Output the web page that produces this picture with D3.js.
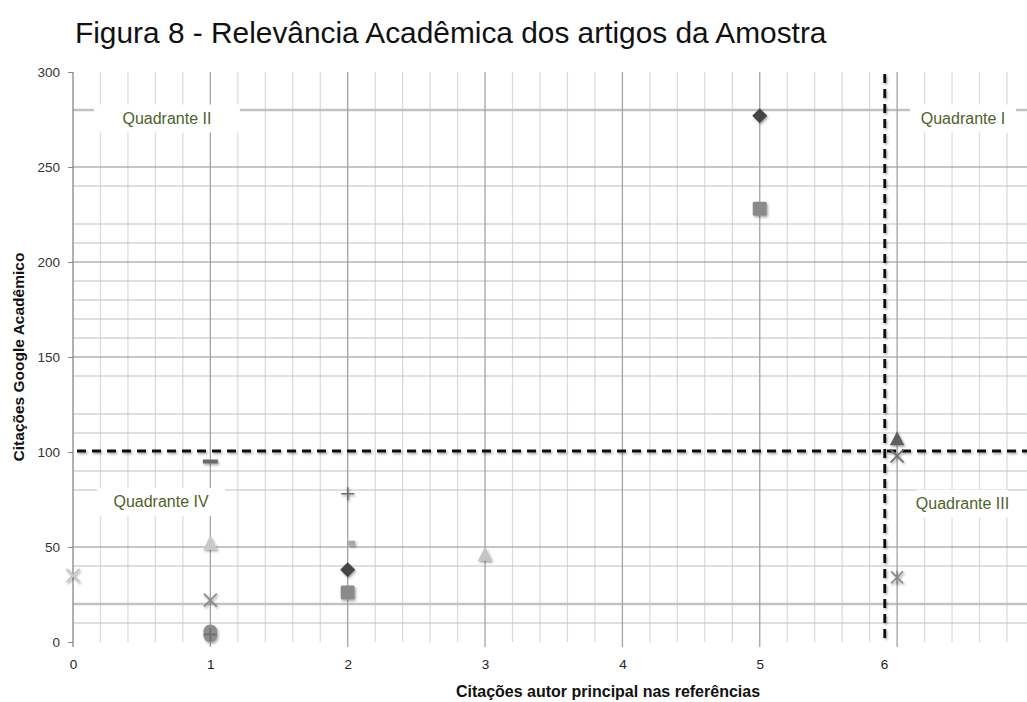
<!DOCTYPE html>
<html>
<head>
<meta charset="utf-8">
<script src="https://cdn.jsdelivr.net/npm/d3@7"></script>
<style>
  body { margin: 0; background: #fff; }
  svg { display: block; }
</style>
</head>
<body>
<script>
// Each article: citations of the lead author in the references (x) vs Google Scholar citations (y)
const citacoesAutor  = [0, 1, 1, 1, 1, 1, 1, 2, 2, 2, 2, 3, 5, 5, 6, 6, 6];
const citacoesGoogle = [35, 95, 52, 22, 5.5, 3.5, 4, 78, 52, 38, 26, 46, 277, 228, 107, 98, 34];
const marcadores = ['x', 'dash', 'triangle', 'x', 'circle', 'circle', 'plus', 'plus', 'shortDash',
                    'diamond', 'square', 'triangle', 'diamond', 'square', 'triangle', 'x', 'asterisk'];

// Axis ticks
const xTicks = [0, 1, 2, 3, 4, 5, 6];
const yTicks = [0, 50, 100, 150, 200, 250, 300];

// Horizontal gridlines
const yMajorLines = [50, 150, 200, 250];
const yMinorLines = [10, 40, 80, 90, 110, 120, 140, 160, 170, 180, 190, 210, 220, 240];
const yWideLines  = [20, 280];

// Quadrant dividers
const corteX = 5.91;
const corteY = 100.5;

// Quadrant captions, anchored at data coordinates
const quadrantes = [
  { texto: 'Quadrante II',  x: 0.684, y: 275.5 },
  { texto: 'Quadrante I',   x: 6.48,  y: 275.5 },
  { texto: 'Quadrante IV',  x: 0.641, y: 73.7 },
  { texto: 'Quadrante III', x: 6.476, y: 72.8 }
];

// ---- styling (kept apart from the data) ----
const markerColor = ['#c4c4c4', '#6b6b6b', '#c8c8c8', '#8a8a8a', '#8e8e8e', '#8e8e8e', '#6e6e6e', '#6a6a6a', '#a8a8a8',
                     '#444444', '#8a8a8a', '#c4c4c4', '#444444', '#8a8a8a', '#5e5e5e', '#6e6e6e', '#8a8a8a'];
const quadBoxWidth = [146, 106, 128, 91];

const W = 1027, H = 702;
const svg = d3.select('body').append('svg').attr('width', W).attr('height', H);

const defs = svg.append('defs');
const sh = defs.append('filter').attr('id', 'sombra')
  .attr('x', '-50%').attr('y', '-50%').attr('width', '200%').attr('height', '200%');
sh.append('feDropShadow').attr('dx', 1.2).attr('dy', 1.6).attr('stdDeviation', 1.3)
  .attr('flood-color', '#000').attr('flood-opacity', 0.35);

const x = d3.scaleLinear().domain([0, 7]).range([73, 73 + 7 * 137.35]);
const y = d3.scaleLinear().domain([0, 300]).range([642, 72]);

// Title
svg.append('text')
  .attr('x', 75).attr('y', 43)
  .attr('font-family', 'Liberation Sans, Arial, sans-serif')
  .attr('font-size', 29.85)
  .attr('fill', '#111')
  .text('Figura 8 - Relevância Acadêmica dos artigos da Amostra');

const grid = svg.append('g');

// vertical minor gridlines every 0.2
const xMinor = d3.range(0, 36).map(i => i / 5).filter(v => Math.abs(v - Math.round(v)) > 1e-6);
grid.selectAll('line.vmin').data(xMinor).join('line')
  .attr('x1', d => x(d)).attr('x2', d => x(d))
  .attr('y1', y(300)).attr('y2', y(0))
  .attr('stroke', '#d9d9d9').attr('stroke-width', 1.2);

// horizontal gridlines
grid.selectAll('line.hmin').data(yMinorLines).join('line')
  .attr('x1', x(0)).attr('x2', W)
  .attr('y1', d => y(d)).attr('y2', d => y(d))
  .attr('stroke', '#c0c0c0').attr('stroke-width', 1.1);
grid.selectAll('line.hwide').data(yWideLines).join('line')
  .attr('x1', x(0)).attr('x2', W)
  .attr('y1', d => y(d)).attr('y2', d => y(d))
  .attr('stroke', '#c2c2c2').attr('stroke-width', 2.4);
grid.selectAll('line.hmaj').data(yMajorLines).join('line')
  .attr('x1', x(0)).attr('x2', W)
  .attr('y1', d => y(d)).attr('y2', d => y(d))
  .attr('stroke', '#8e8e8e').attr('stroke-width', 1.2);

// vertical major gridlines at integers (with small tick below)
grid.selectAll('line.vmaj').data(d3.range(1, 8)).join('line')
  .attr('x1', d => x(d)).attr('x2', d => x(d))
  .attr('y1', y(300)).attr('y2', y(0) + 5)
  .attr('stroke', '#a2a2a2').attr('stroke-width', 1.3);

// Quadrant caption boxes
const qg = svg.append('g');
quadrantes.forEach((q, i) => {
  const cx = x(q.x), cy = y(q.y);
  qg.append('rect')
    .attr('x', cx - quadBoxWidth[i] / 2).attr('y', cy - 14)
    .attr('width', quadBoxWidth[i]).attr('height', 28)
    .attr('fill', '#fff');
  qg.append('text')
    .attr('x', cx).attr('y', cy)
    .attr('text-anchor', 'middle').attr('dominant-baseline', 'central')
    .attr('font-family', 'Liberation Sans, Arial, sans-serif')
    .attr('font-size', 16).attr('fill', '#4f6228')
    .text(q.texto);
});

// Y axis
const yAxis = svg.append('g').attr('transform', `translate(${x(0)},0)`)
  .call(d3.axisLeft(y).tickValues(yTicks).tickSize(5).tickPadding(8).tickSizeOuter(0));
yAxis.select('.domain').attr('stroke', '#868686').attr('stroke-width', 1.3)
  .attr('d', `M0,${y(300)}V${y(0) + 5}`);
yAxis.selectAll('.tick line').attr('stroke', '#868686');
yAxis.selectAll('.tick text')
  .attr('font-family', 'Liberation Sans, Arial, sans-serif')
  .attr('font-size', 13.5).attr('fill', '#333');

// X axis (labels only, gridlines carry the ticks)
const xAxis = svg.append('g').attr('transform', `translate(0,${y(0)})`)
  .call(d3.axisBottom(x).tickValues(xTicks).tickFormat(d3.format('d')).tickSize(0).tickPadding(17));
xAxis.select('.domain').remove();
xAxis.selectAll('.tick line').remove();
xAxis.selectAll('.tick text')
  .attr('font-family', 'Liberation Sans, Arial, sans-serif')
  .attr('font-size', 13.5).attr('fill', '#222')
  .attr('dx', d => d === xTicks[xTicks.length - 1] ? -13 : 0);

// Axis titles
svg.append('text')
  .attr('transform', `translate(18,${(y(0) + y(300)) / 2}) rotate(-90)`)
  .attr('text-anchor', 'middle').attr('dominant-baseline', 'central')
  .attr('font-family', 'Liberation Sans, Arial, sans-serif')
  .attr('font-size', 15.5).attr('font-weight', 'bold').attr('fill', '#111')
  .text('Citações Google Acadêmico');
svg.append('text')
  .attr('x', 608).attr('y', 697)
  .attr('text-anchor', 'middle')
  .attr('font-family', 'Liberation Sans, Arial, sans-serif')
  .attr('font-size', 16).attr('font-weight', 'bold').attr('fill', '#111')
  .text('Citações autor principal nas referências');

// Quadrant divider lines
const cortes = svg.append('g').attr('filter', 'url(#sombra)');
cortes.append('line')
  .attr('x1', x(0) + 4).attr('x2', W)
  .attr('y1', y(corteY)).attr('y2', y(corteY))
  .attr('stroke', '#111').attr('stroke-width', 3).attr('stroke-dasharray', '9,6');
cortes.append('line')
  .attr('x1', x(corteX)).attr('x2', x(corteX))
  .attr('y1', y(300) + 2).attr('y2', y(0))
  .attr('stroke', '#111').attr('stroke-width', 2.8).attr('stroke-dasharray', '9,6');

// Markers
function drawMarker(g, shape, color) {
  switch (shape) {
    case 'diamond':
      g.append('path').attr('d', 'M0,-7.5L7.5,0L0,7.5L-7.5,0Z').attr('fill', color); break;
    case 'square':
      g.append('rect').attr('x', -7).attr('y', -7).attr('width', 14).attr('height', 14)
        .attr('rx', 1.5).attr('fill', color); break;
    case 'triangle':
      g.append('path').attr('d', 'M0,-7.5L7.3,6.5L-7.3,6.5Z').attr('fill', color); break;
    case 'circle':
      g.append('circle').attr('r', 7).attr('fill', color); break;
    case 'x':
      g.append('path').attr('d', 'M-6.5,-6.5L6.5,6.5M-6.5,6.5L6.5,-6.5')
        .attr('stroke', color).attr('stroke-width', 1.8).attr('fill', 'none'); break;
    case 'asterisk':
      g.append('path').attr('d', 'M-6,-6L6,6M-6,6L6,-6M0,-7L0,7')
        .attr('stroke', color).attr('stroke-width', 1.6).attr('fill', 'none'); break;
    case 'plus':
      g.append('path').attr('d', 'M-6.5,0L6.5,0M0,-6.5L0,6.5')
        .attr('stroke', color).attr('stroke-width', 1.6).attr('fill', 'none'); break;
    case 'dash':
      g.append('rect').attr('x', -7.5).attr('y', -2).attr('width', 15).attr('height', 4)
        .attr('fill', color); break;
    case 'shortDash':
      g.append('rect').attr('x', 0.5).attr('y', -2.5).attr('width', 7).attr('height', 5)
        .attr('fill', color); break;
  }
}

const pts = svg.append('g').attr('filter', 'url(#sombra)');
citacoesAutor.forEach((cx, i) => {
  const g = pts.append('g').attr('transform', `translate(${x(cx)},${y(citacoesGoogle[i])})`);
  drawMarker(g, marcadores[i], markerColor[i]);
});
</script>
</body>
</html>
